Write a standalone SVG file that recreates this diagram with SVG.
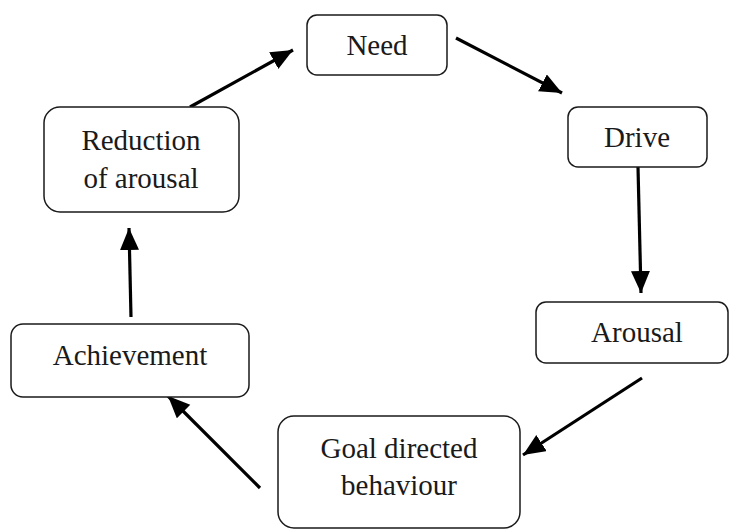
<svg xmlns="http://www.w3.org/2000/svg" width="730" height="531" viewBox="0 0 730 531">
<defs>
<style>
.box{fill:#fff;stroke:#1a1a1a;stroke-width:1.5}
.t{font-size:29px;fill:#1a1a1a;text-anchor:middle}
.c{stroke:#000;stroke-width:3.2;fill:none;marker-end:url(#ah)}
</style>
<marker id="ah" markerUnits="userSpaceOnUse" markerWidth="24" markerHeight="20" refX="22" refY="9.5" orient="auto">
<path d="M0,0 L22,9.5 L0,19 Z" fill="#000"/>
</marker>
</defs>
<rect width="730" height="531" fill="#fff"/>
<g id="connectors">
<line class="c" x1="190" y1="107" x2="293" y2="50"/>
<line class="c" x1="456" y1="38" x2="562" y2="93"/>
<line class="c" x1="638" y1="167" x2="641" y2="293"/>
<line class="c" x1="642" y1="378" x2="523" y2="455"/>
<line class="c" x1="260" y1="488" x2="168" y2="396"/>
<line class="c" x1="131" y1="317" x2="129" y2="228"/>
</g>
<g font-family="'Liberation Serif', 'DejaVu Serif', serif">
<g id="need">
<rect class="box" x="307" y="15" width="140" height="60" rx="10"/>
<text class="t" x="377" y="55">Need</text>
</g>
<g id="drive">
<rect class="box" x="568" y="107" width="139" height="60" rx="10"/>
<text class="t" x="637" y="147">Drive</text>
</g>
<g id="arousal">
<rect class="box" x="536" y="302" width="192" height="61" rx="10"/>
<text class="t" x="637" y="342">Arousal</text>
</g>
<g id="goal">
<rect class="box" x="278" y="416" width="242" height="112" rx="16"/>
<text class="t" x="399" y="458">Goal directed</text>
<text class="t" x="399" y="495">behaviour</text>
</g>
<g id="achievement">
<rect class="box" x="11" y="324" width="238" height="73" rx="12"/>
<text class="t" x="130" y="365">Achievement</text>
</g>
<g id="reduction">
<rect class="box" x="44" y="107" width="195" height="105" rx="16"/>
<text class="t" x="141" y="150">Reduction</text>
<text class="t" x="141" y="188">of arousal</text>
</g>
</g>
</svg>
